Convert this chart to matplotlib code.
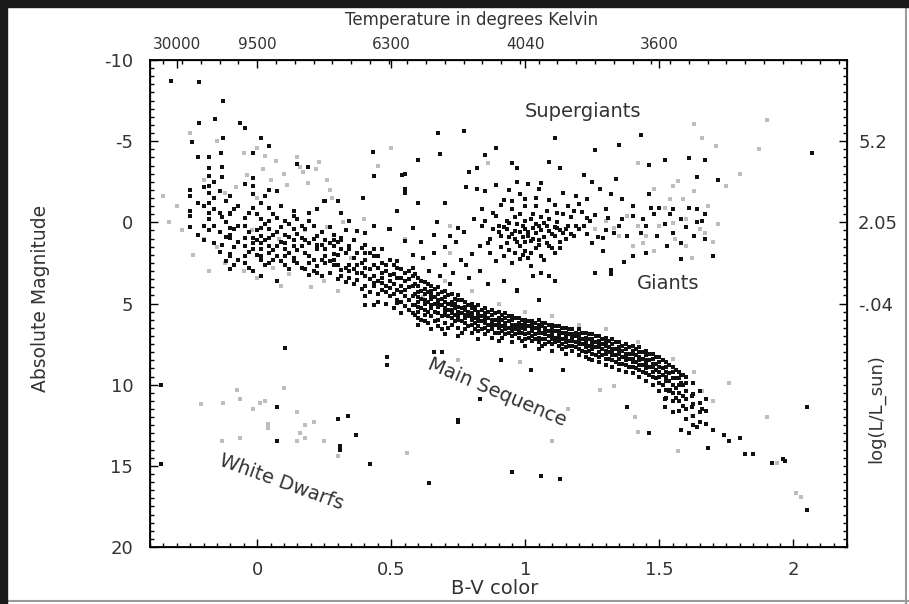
import matplotlib
matplotlib.use("Agg")
import matplotlib.pyplot as plt
from matplotlib.ticker import MultipleLocator, FixedLocator
from matplotlib.patches import Rectangle
from matplotlib.lines import Line2D

plt.rcParams["font.family"] = ["DejaVu Sans"]
plt.rcParams["axes.unicode_minus"] = False

# upper main sequence, read column by column: (B-V, [absolute magnitudes])
ms_upper = [
    (-0.25, [-2.0, -1.6, -0.7, -0.4, 0.3]),
    (-0.22, [-4.0, -1.2, 0.8]),
    (-0.20, [-2.2, -1.0, 0.2, 1.1]),
    (-0.18, [-4.05, -3.37, -2.85, -2.24, -1.82, -1.2, -0.59, -0.18, 0.5]),
    (-0.16, [-2.5, -1.5, -0.8, 0.2, 1.3]),
    (-0.14, [-1.9, -0.6, 0.6, 1.8]),
    (-0.13, [-3.4, -2.8, -0.3, 1.4]),
    (-0.115, [-1.3, 0.0, 0.9, 2.4]),
    (-0.10, [-1.62, -0.59, -0.49, 0.35, 0.75, 0.95, 1.98, 2.08, 2.9]),
    (-0.085, [-0.8, 0.4, 1.5, 2.6]),
    (-0.07, [-1.0, 0.2, 1.2, 2.3]),
    (-0.045, [-2.34, -0.28, 0.23, 0.95, 1.47, 2.09, 2.5]),
    (-0.03, [-0.6, 0.6, 1.8, 2.8]),
    (-0.015, [-4.3, -2.75, -2.24, -1.72, -0.9, 0.95, 1.26, 1.67, 3.0]),
    (0.0, [-0.5, 0.5, 1.1, 2.0]),
    (0.015, [-1.2, -0.18, 0.34, 0.85, 1.26, 1.67, 2.09, 2.29, 3.3]),
    (0.03, [-1.6, 0.1, 1.1, 2.6]),
    (0.045, [-2.0, -0.9, -0.08, 0.44, 0.95, 1.47, 1.88, 2.5]),
    (0.06, [-0.5, 0.8, 1.7, 2.3]),
    (0.074, [-1.93, -0.28, 0.6, 1.47, 2.09, 3.63]),
    (0.09, [-1.0, 0.3, 1.2, 2.4]),
    (0.104, [-0.08, 0.75, 1.26, 1.67, 2.09, 2.6]),
    (0.12, [0.1, 0.9, 1.9, 2.9]),
    (0.136, [-0.69, -0.39, 0.44, 1.06, 1.47, 2.19, 2.39]),
    (0.15, [-0.2, 0.7, 1.7, 2.5]),
    (0.167, [0.2, 0.95, 1.47, 2.8]),
    (0.18, [0.4, 1.1, 1.9, 2.9]),
    (0.194, [-0.59, -0.08, 1.26, 2.09, 2.5, 3.22]),
    (0.21, [0.2, 1.0, 2.3, 3.0]),
    (0.223, [-0.84, 0.85, 1.37, 1.67, 2.7, 3.12]),
    (0.24, [0.6, 1.4, 2.3, 3.3]),
    (0.254, [-1.31, 1.06, 1.67, 2.09, 2.5]),
    (0.27, [0.3, 1.3, 2.4, 3.1]),
    (0.285, [0.75, 1.06, 1.47, 1.98, 2.29, 2.6]),
    (0.30, [1.2, 2.0, 2.6, 3.5]),
    (0.313, [-0.59, 0.95, 1.06, 1.67, 2.91, 3.32]),
    (0.33, [0.5, 1.9, 2.8, 3.7]),
    (0.343, [-0.08, 1.47, 1.67, 2.6, 3.01, 3.42]),
    (0.36, [1.1, 2.2, 2.9, 3.8]),
    (0.371, [0.54, 1.88, 2.6, 3.12, 3.53]),
    (0.39, [1.6, 2.5, 3.1, 4.1]),
    (0.403, [0.64, 1.37, 1.88, 2.29, 2.8, 3.32, 3.94, 4.55, 5.07]),
    (0.42, [1.9, 2.9, 3.5, 4.3]),
    (0.434, [-2.85, 0.23, 1.67, 2.09, 2.6, 3.32, 3.73, 3.94, 5.07]),
    (0.45, [2.1, 2.8, 3.6, 4.4, 4.9]),
    (0.465, [1.67, 2.5, 3.12, 3.42, 3.73, 4.14]),
    (0.48, [2.6, 3.0, 3.9, 4.3, 5.0]),
    (0.496, [0.44, 2.29, 3.22, 3.63, 4.04, 4.55]),
    (0.51, [2.6, 3.2, 3.8, 4.4, 5.3]),
    (0.52, [-0.69, 2.39, 2.8, 3.42, 4.14, 4.76, 4.97]),
    (0.535, [2.9, 3.4, 3.9, 4.3, 4.9, 5.6]),
    (0.552, [-2.96, -2.03, -1.82, 1.16, 3.12, 3.63, 4.14, 4.55, 5.17]),
    (0.565, [3.0, 3.5, 4.0, 4.8, 5.4]),
    (0.58, [0.34, 2.8, 3.32, 3.94, 4.55, 5.07, 5.58]),
]

# lower main sequence band
ms_lower = [
    (0.5875, [3.2, 3.8, 4.4, 5.1, 5.7]),
    (0.60, [3.4, 3.9, 4.3, 4.6, 4.9, 5.2, 5.5, 5.9, 6.3]),
    (0.6125, [3.6, 4.2, 4.7, 5.3, 6.0]),
    (0.625, [3.7, 4.1, 4.4, 4.8, 5.0, 5.4, 5.7, 6.1]),
    (0.6375, [3.8, 4.3, 4.9, 5.5, 6.2]),
    (0.65, [3.9, 4.2, 4.5, 4.7, 5.1, 5.3, 5.8, 6.6]),
    (0.6625, [4.1, 4.6, 5.0, 5.5, 6.1]),
    (0.675, [4.0, 4.4, 4.8, 5.0, 5.2, 5.6, 6.0, 6.4]),
    (0.6875, [4.3, 4.7, 5.1, 5.8, 6.6]),
    (0.70, [4.2, 4.6, 4.9, 5.3, 5.5, 5.7, 6.2, 6.9]),
    (0.7125, [4.5, 5.0, 5.4, 5.8, 6.5]),
    (0.725, [4.4, 4.9, 5.1, 5.4, 5.6, 5.9, 6.3]),
    (0.7375, [4.7, 5.0, 5.3, 5.7, 6.1]),
    (0.75, [4.5, 4.8, 5.2, 5.5, 5.8, 6.0, 6.5, 7.0]),
    (0.7625, [4.8, 5.3, 5.6, 6.1, 6.8]),
    (0.775, [4.9, 5.2, 5.4, 5.7, 5.9, 6.2, 6.6]),
    (0.7875, [5.1, 5.5, 5.8, 6.4]),
    (0.80, [5.0, 5.3, 5.6, 5.8, 6.0, 6.3, 6.8]),
    (0.8125, [5.2, 5.4, 5.9, 6.2, 6.6]),
    (0.825, [5.1, 5.5, 5.7, 5.9, 6.1, 6.4, 6.7, 7.2]),
    (0.8375, [5.4, 5.8, 6.1, 6.6]),
    (0.85, [5.3, 5.6, 5.8, 6.0, 6.2, 6.5, 6.9]),
    (0.8625, [5.5, 5.9, 6.3, 6.7]),
    (0.875, [5.4, 5.7, 6.0, 6.2, 6.4, 6.6, 7.1]),
    (0.8875, [5.6, 6.0, 6.3, 6.8]),
    (0.90, [5.5, 5.9, 6.1, 6.3, 6.5, 6.8, 7.3]),
    (0.9125, [5.7, 6.0, 6.4, 6.7, 7.1]),
    (0.925, [5.6, 5.9, 6.2, 6.4, 6.6, 6.9]),
    (0.9375, [5.8, 6.1, 6.5, 6.8]),
    (0.95, [5.8, 6.0, 6.3, 6.5, 6.7, 7.0, 7.4]),
    (0.9625, [5.9, 6.3, 6.6, 6.9]),
    (0.975, [5.9, 6.2, 6.4, 6.6, 6.8, 7.1]),
    (0.9875, [6.0, 6.3, 6.5, 6.8, 7.3]),
    (1.00, [6.0, 6.2, 6.4, 6.6, 6.9, 7.2, 7.6]),
    (1.0125, [6.1, 6.4, 6.8, 7.1]),
    (1.025, [6.1, 6.3, 6.5, 6.7, 7.0, 7.3]),
    (1.0375, [6.2, 6.5, 6.9, 7.2]),
    (1.05, [6.0, 6.3, 6.6, 6.8, 7.1, 7.4, 7.8]),
    (1.0625, [6.2, 6.4, 6.8, 7.2, 7.6]),
    (1.075, [6.2, 6.5, 6.7, 6.9, 7.2, 7.5]),
    (1.0875, [6.3, 6.7, 7.0, 7.4]),
    (1.10, [6.3, 6.6, 6.8, 7.0, 7.2, 7.5, 7.9]),
    (1.1125, [6.4, 6.7, 7.1, 7.4]),
    (1.125, [6.4, 6.7, 6.9, 7.1, 7.3, 7.6]),
    (1.1375, [6.5, 6.8, 7.2, 7.5, 7.8]),
    (1.15, [6.5, 6.8, 7.0, 7.2, 7.4, 7.7, 8.1]),
    (1.1625, [6.6, 6.9, 7.3, 7.6]),
    (1.175, [6.6, 6.9, 7.1, 7.3, 7.6, 7.9]),
    (1.1875, [6.8, 7.0, 7.4, 7.7]),
    (1.20, [6.6, 6.9, 7.1, 7.3, 7.5, 7.8, 8.2]),
    (1.2125, [6.8, 7.2, 7.5, 7.9]),
    (1.225, [6.8, 7.1, 7.3, 7.5, 7.7, 8.0, 8.3]),
    (1.2375, [6.9, 7.2, 7.6, 7.9, 8.4]),
    (1.25, [6.9, 7.2, 7.4, 7.6, 7.8, 8.1, 8.5]),
    (1.2625, [7.0, 7.4, 7.7, 8.2]),
    (1.275, [7.0, 7.3, 7.5, 7.7, 8.0, 8.3, 8.6]),
    (1.2875, [7.2, 7.5, 7.8, 8.2]),
    (1.30, [7.1, 7.4, 7.6, 7.9, 8.1, 8.4, 8.8]),
    (1.3125, [7.3, 7.7, 8.0, 8.4]),
    (1.325, [7.2, 7.5, 7.8, 8.0, 8.2, 8.5, 8.9]),
    (1.3375, [7.4, 7.8, 8.2, 8.6]),
    (1.35, [7.4, 7.7, 7.9, 8.1, 8.4, 8.7, 9.1]),
    (1.3625, [7.6, 7.9, 8.3, 8.7]),
    (1.375, [7.5, 7.8, 8.1, 8.3, 8.5, 8.8, 9.2]),
    (1.3875, [7.7, 8.1, 8.4, 8.9]),
    (1.40, [7.6, 7.9, 8.1, 8.4, 8.6, 8.9, 9.3]),
    (1.4125, [7.8, 8.2, 8.6, 9.0]),
    (1.425, [7.7, 8.0, 8.3, 8.5, 8.8, 9.1, 9.5]),
    (1.4375, [8.0, 8.4, 8.8, 9.2]),
    (1.45, [7.9, 8.2, 8.5, 8.7, 9.0, 9.3, 9.8]),
    (1.4625, [8.1, 8.5, 8.9, 9.4]),
    (1.475, [8.1, 8.4, 8.7, 8.9, 9.2, 9.5, 10.0]),
    (1.4875, [8.3, 8.7, 9.1, 9.6]),
    (1.50, [8.3, 8.6, 8.9, 9.2, 9.5, 9.9, 10.4]),
    (1.5125, [8.5, 9.0, 9.4, 10.0]),
    (1.525, [8.6, 8.9, 9.2, 9.5, 9.8, 10.3, 10.8]),
    (1.5375, [8.8, 9.3, 9.8, 10.4]),
    (1.55, [8.9, 9.2, 9.6, 10.0, 10.5, 11.0]),
    (1.5625, [9.1, 9.6, 10.2, 10.8]),
    (1.575, [9.2, 9.6, 10.0, 10.5, 11.0, 11.6]),
    (1.5875, [9.4, 10.0, 10.7, 11.3]),
    (1.60, [9.5, 9.9, 10.4, 10.9, 11.5, 12.1]),
    (1.625, [9.9, 10.6, 11.2, 11.9, 12.5]),
    (1.65, [10.4, 11.1, 11.7, 12.3]),
    (1.675, [10.9, 11.6, 12.4]),
]

# giants and supergiants (B-V, M)
giants = [
    (1.11, -5.18), (1.43, -5.39), (1.26, -4.44), (1.35, -4.75), (0.89, -4.56),
    (0.85, -4.13), (1.09, -3.72), (1.13, -3.37), (0.95, -3.64), (0.97, -3.37),
    (0.82, -3.37), (0.79, -3.1), (1.52, -3.84), (1.61, -3.99), (1.67, -3.84),
    (1.46, -3.54), (1.64, -2.82), (1.72, -2.61), (1.22, -2.9), (1.25, -2.49),
    (1.34, -2.69), (0.97, -2.49), (1.06, -2.44), (0.78, -2.2), (0.82, -2.03),
    (0.85, -1.93), (0.94, -1.99), (0.98, -1.72), (1.01, -2.34), (1.05, -2.03),
    (1.14, -1.83), (1.19, -1.62), (1.23, -1.46), (1.28, -2.03), (1.32, -1.72),
    (1.36, -1.46), (1.46, -1.72), (1.50, -0.9), (1.55, -0.8), (1.61, -0.9),
    (1.64, -0.8), (1.67, -0.49), (0.70, -1.17), (0.84, -0.8), (0.91, -1.05),
    (0.95, -1.31), (1.00, -1.42), (1.04, -1.0), (1.08, -0.7), (1.11, -1.05),
    (1.16, -1.0), (1.21, -0.64), (1.26, -0.43), (1.31, -0.28), (1.36, -0.18),
    (1.40, -0.39), (1.44, -0.22), (1.48, -0.49), (1.54, -0.49), (1.58, -0.18),
    (1.66, -0.08), (0.81, -0.18), (0.85, -0.08), (0.89, -0.39), (0.90, 0.23),
    (0.93, 0.44), (0.94, 0.03), (0.96, 0.54), (0.99, 0.23), (1.01, 0.85),
    (1.03, 0.33), (1.04, 0.64), (1.07, 0.03), (1.09, 0.54), (1.11, 0.85),
    (1.12, 0.33), (1.14, 0.64), (1.16, 0.23), (1.18, 0.85), (1.20, 0.44),
    (1.23, 0.74), (1.25, 1.26), (0.91, 0.85), (0.93, 1.26), (0.96, 1.01),
    (0.98, 1.47), (1.00, 1.77), (1.02, 1.16), (1.04, 1.57), (1.06, 2.08),
    (1.09, 1.47), (1.11, 1.88), (1.13, 1.57), (0.87, 1.05), (0.83, 1.47),
    (0.87, 1.88), (0.89, 2.39), (0.92, 2.08), (0.95, 2.49), (0.98, 2.25),
    (1.02, 2.7), (1.06, 3.11), (1.09, 3.32), (1.11, 3.63), (1.03, 3.32),
    (1.26, 3.11), (1.32, 2.91), (1.32, 3.21), (1.37, 2.43), (1.40, 2.08),
    (1.45, 1.88), (0.80, 1.98), (0.72, 0.85), (0.75, 0.33), (0.78, 2.6),
    (0.92, 3.63), (0.97, 4.18), (1.29, 1.78), (1.29, 0.95), (1.33, 0.64),
    (1.38, 0.85), (1.43, 0.64), (1.49, 0.85), (1.55, 0.64), (1.58, 1.26),
    (1.63, 0.85), (1.70, 2.08), (1.58, 2.25), (1.67, 1.05), (1.53, 1.47),
    (1.23, -0.28), (0.97, 0.1), (1.00, 0.4), (1.02, -0.2), (1.05, 0.2),
    (1.07, 0.9), (1.00, 1.2), (0.95, 0.7), (0.93, -0.1), (1.12, 0.0),
    (1.15, 1.0), (1.08, 1.3), (0.98, -0.5), (1.06, -0.3), (1.13, 0.5),
    (0.99, 0.9), (1.03, 1.0), (0.90, 0.6), (1.17, -0.3), (1.10, 1.6),
    (0.96, 1.9), (1.01, 2.2), (0.88, -0.6), (1.19, 0.2), (1.22, 0.2),
    (1.24, -0.1), (1.27, 0.9), (1.30, 0.5), (0.77, -5.6), (0.68, -4.2),
    (2.07, -4.3),
    (0.92, 0.3), (0.94, 0.9), (0.96, -0.3), (0.98, 0.6), (1.00, -0.1),
    (1.01, 0.6), (1.03, -0.5), (1.04, 0.1), (1.05, 1.1), (1.06, 0.5),
    (1.08, 0.2), (1.09, -0.2), (1.10, 0.7), (1.11, 0.3), (1.13, 1.2),
    (1.14, -0.5), (1.15, 0.4), (1.17, 0.7), (1.18, -0.7), (0.91, 1.5),
    (0.94, 1.7), (0.97, 1.2), (0.99, 2.0), (1.02, 1.9), (1.05, 1.4),
    (1.07, 2.3), (0.88, 0.4), (0.86, 1.3), (0.84, 0.2), (0.95, -0.8),
    (1.00, -1.0), (1.04, -1.5), (1.09, -1.4), (1.12, -0.6), (0.92, -1.4),
    (0.89, -2.3), (1.20, -1.1), (1.30, -0.8), (1.35, 0.2), (1.40, -1.0),
    (1.45, 0.2), (1.47, -0.9), (1.52, 0.1), (1.60, 0.3), (1.64, 0.0),
]

# scattered dark stars: hot bright ones, below the band, white dwarfs, red tail
scattered = [
    (-0.32, -8.7), (-0.216, -8.64), (-0.127, -7.47), (-0.157, -6.36), (-0.216, -6.1),
    (-0.063, -6.1), (-0.045, -5.8), (-0.127, -5.2), (0.015, -5.2), (-0.243, -4.94),
    (0.045, -4.7), (0.675, -5.5), (0.433, -4.32), (0.60, -3.83), (-0.134, -4.26),
    (0.54, -2.9), (0.55, -1.9), (0.60, -1.17), (0.70, -1.17), (0.396, -1.48),
    (0.25, -1.3), (0.30, -1.3), (-0.18, -4.0), (-0.13, -3.4), (0.67, 0.0),
    (0.52, -0.7), (0.49, 0.43), (0.15, -3.6), (0.19, -3.4),
    (0.62, 2.2), (0.66, 1.9), (0.70, 2.6), (0.73, 3.1), (0.76, 2.3),
    (0.79, 3.4), (0.83, 3.0), (0.86, 3.8), (0.64, 3.0), (0.68, 3.3),
    (0.72, 3.8), (0.58, 2.0), (0.61, 1.2), (0.66, 0.8), (0.70, 1.5),
    (0.74, 1.2), (0.77, 0.6),
    (0.485, 8.3), (0.485, 8.8), (0.75, 12.3), (0.64, 16.05), (0.95, 15.4),
    (1.06, 15.6), (1.13, 15.8), (0.91, 8.5), (1.02, 9.1), (1.14, 9.1),
    (0.83, 10.9), (1.05, 4.8), (0.97, 4.25), (0.92, 3.6), (0.66, 8.0),
    (0.69, 8.0), (0.104, 7.73), (-0.36, 10.0), (-0.36, 14.9), (0.075, 11.4),
    (0.075, 13.5), (0.30, 12.1), (0.34, 11.9), (0.37, 13.1), (0.31, 13.8),
    (0.31, 14.0), (0.42, 14.9), (0.75, 12.2),
    (1.46, 13.0), (1.96, 14.6), (1.82, 14.3), (1.76, 13.5), (1.70, 12.8),
    (1.64, 12.6), (1.61, 13.0), (1.58, 12.8), (1.55, 11.7), (1.52, 11.4),
    (1.52, 10.9), (1.54, 10.3), (1.58, 9.9), (1.62, 10.7), (1.62, 11.4),
    (1.66, 11.5), (1.74, 13.1), (1.80, 13.3), (1.85, 14.3), (1.92, 14.8),
    (1.68, 13.9), (1.38, 11.4), (1.55, 9.2), (1.58, 9.4), (2.05, 11.4),
    (2.05, 17.7), (1.97, 14.7),
]

# faint grey stars
faint = [
    (-0.25, -5.5), (-0.15, -5.0), (-0.05, -4.3), (0.0, -4.6), (0.02, -3.3),
    (0.10, -3.0), (0.15, -4.0), (0.17, -3.1), (0.22, -3.3), (-0.20, -2.6),
    (-0.08, -2.2), (0.05, -2.6), (0.28, -1.5), (-0.12, -1.8), (0.0, -1.5),
    (-0.30, -1.0), (-0.28, 0.5), (-0.20, 1.0), (-0.15, 1.5), (-0.12, 2.5),
    (-0.05, 3.0), (0.0, 3.4), (0.06, 2.8), (0.12, 3.2), (0.20, 4.0),
    (0.25, 3.6), (0.30, 4.2), (0.35, 2.2), (0.18, 0.5), (0.08, 1.0),
    (-0.02, 0.5), (0.26, 0.3), (0.32, 0.0), (0.40, -0.2), (0.45, -3.5),
    (0.50, -4.6), (0.27, -2.0), (-0.35, -1.6), (-0.33, 0.0), (0.03, -4.1),
    (0.07, -3.8), (0.16, -3.4), (0.23, -3.7), (0.26, -2.6), (0.19, -2.4),
    (-0.04, -2.9), (0.11, -2.3), (-0.24, 2.0), (-0.18, 3.0), (0.09, 3.9),
    (1.63, -6.05), (1.66, -5.22), (1.71, -4.71), (1.75, -2.24), (1.72, 0.13),
    (1.42, -3.68), (1.48, -2.03), (1.55, -2.24), (1.63, -1.93), (1.54, -1.42),
    (1.59, -1.42), (1.50, 0.23), (1.55, 0.03), (1.65, 0.44), (1.45, 0.85),
    (1.35, 0.85), (1.33, 0.33), (1.60, 1.47), (1.67, 0.64), (0.72, 0.23),
    (0.72, 1.88), (0.86, -3.68), (1.57, -2.55), (1.40, 1.47), (1.44, 1.26),
    (1.48, 1.77), (1.38, -0.4), (1.52, -0.9), (1.60, -0.2), (1.68, -1.0),
    (1.70, 1.2), (1.62, 2.2), (1.56, 1.0), (1.42, 0.2), (1.30, -0.1),
    (1.26, 0.4), (1.90, -6.3), (1.80, -3.0), (1.87, -4.5),
    (0.55, 1.0), (0.62, 4.6), (0.70, 3.6), (0.80, 4.2), (0.90, 5.0),
    (1.00, 5.5), (1.10, 5.8), (1.20, 6.3), (1.30, 6.6), (1.42, 7.4),
    (1.55, 8.4), (1.63, 9.2), (1.66, 10.4), (1.62, 11.9), (1.70, 11.0),
    (1.76, 9.9), (1.42, 12.9), (1.41, 12.0), (1.28, 10.3), (1.33, 10.1),
    (1.57, 14.1), (1.10, 13.5), (1.16, 11.5), (0.56, 14.2), (0.75, 8.5),
    (0.98, 8.6), (2.01, 16.7), (2.03, 16.9), (1.94, 14.8), (1.90, 12.0),
    (-0.075, 10.3), (-0.127, 11.1), (-0.063, 10.9), (-0.015, 11.5), (0.011, 11.1),
    (0.03, 11.0), (0.15, 11.7), (0.04, 12.4), (0.04, 12.7), (0.18, 12.5),
    (0.16, 13.0), (0.18, 13.3), (0.15, 13.5), (-0.063, 13.3), (0.25, 13.5),
    (0.30, 14.4), (0.10, 10.2), (-0.13, 13.5), (-0.21, 11.2), (0.21, 12.3),
]

temp_pos = [-0.3, 0, 0.5, 1.0, 1.5]
temp_labels = ["30000", "9500", "6300", "4040", "3600"]
lum_pos = [-5, 0, 5]
lum_labels = ["5.2", "2.05", "-.04"]

dark_bv = []
dark_mag = []
for bv, mags in ms_upper + ms_lower:
    for m in mags:
        dark_bv.append(bv)
        dark_mag.append(m)
for bv, m in giants + scattered:
    dark_bv.append(bv)
    dark_mag.append(m)

txt = "#333333"
fig = plt.figure(figsize=(9.09, 6.04), dpi=100)
ax = fig.add_axes([150 / 909, 57 / 604, 697 / 909, 487 / 604])

ax.scatter([p[0] for p in faint], [p[1] for p in faint], s=6, marker="s",
           color="#bdbdbd", linewidths=0)
ax.scatter(dark_bv, dark_mag, s=6, marker="s", color="#111111", linewidths=0)

ax.set_xlim(-0.4, 2.2)
ax.set_ylim(20, -10)
ax.xaxis.set_major_locator(MultipleLocator(0.5))
ax.xaxis.set_minor_locator(MultipleLocator(0.05))
ax.yaxis.set_major_locator(MultipleLocator(5))
ax.yaxis.set_minor_locator(MultipleLocator(0.5))
ax.xaxis.set_major_formatter(plt.FuncFormatter(lambda v, p: "%g" % v))
ax.tick_params(which="both", direction="in", colors="black", labelcolor=txt,
               labelsize=13, width=1)
ax.tick_params(which="major", length=6)
ax.tick_params(which="minor", length=3)
ax.tick_params(axis="x", pad=10)
ax.tick_params(axis="y", pad=12)
for s in ax.spines.values():
    s.set_linewidth(1.3)

ax.set_xlabel("B-V color", fontsize=14, color=txt)
ax.xaxis.set_label_coords(0.495, -0.066)
ax.set_ylabel("Absolute Magnitude", fontsize=13.5, color=txt)
ax.yaxis.set_label_coords(-0.143, 0.51)

top = ax.twiny()
top.set_xlim(ax.get_xlim())
top.xaxis.set_major_locator(FixedLocator(temp_pos))
top.set_xticklabels(temp_labels)
top.xaxis.set_minor_locator(MultipleLocator(0.07))
top.tick_params(which="both", direction="in", labelsize=11, labelcolor=txt, pad=6, width=1)
top.tick_params(which="major", length=6)
top.tick_params(which="minor", length=3)

right = ax.twinx()
right.set_ylim(ax.get_ylim())
right.yaxis.set_major_locator(FixedLocator(lum_pos))
right.set_yticklabels(lum_labels)
right.yaxis.set_minor_locator(MultipleLocator(0.5))
right.tick_params(which="both", direction="in", labelsize=13, labelcolor=txt, pad=8, width=1)
right.tick_params(which="major", length=6)
right.tick_params(which="minor", length=3)

ax.text(0.462, 1.082, "Temperature in degrees Kelvin", transform=ax.transAxes,
        ha="center", va="center", fontsize=12, color=txt)
ax.text(1.042, 0.285, "log(L/L_sun)", transform=ax.transAxes, rotation=90,
        ha="center", va="center", fontsize=13, color=txt)

ax.text(1.216, -6.8, "Supergiants", ha="center", va="center", fontsize=14, color=txt)
ax.text(1.534, 3.77, "Giants", ha="center", va="center", fontsize=14, color=txt)
ax.text(0.896, 10.5, "Main Sequence", ha="center", va="center", fontsize=14,
        color=txt, rotation=-23, rotation_mode="anchor")
ax.text(0.09, 16.0, "White Dwarfs", ha="center", va="center", fontsize=14,
        color=txt, rotation=-20, rotation_mode="anchor")

# window frame round the picture
fig.patches.append(Rectangle((0, 1 - 7 / 604), 1, 7 / 604, transform=fig.transFigure,
                             color="#1a1a1a", zorder=5))
fig.patches.append(Rectangle((0, 0), 7 / 909, 1, transform=fig.transFigure,
                             color="#1a1a1a", zorder=5))
fig.lines.append(Line2D([906 / 909, 906 / 909], [0, 1], transform=fig.transFigure,
                        color="#9a9a9a", lw=1.5))
fig.lines.append(Line2D([0, 1], [3 / 604, 3 / 604], transform=fig.transFigure,
                        color="#9a9a9a", lw=1.5))

fig.savefig("out.png", dpi=100)
